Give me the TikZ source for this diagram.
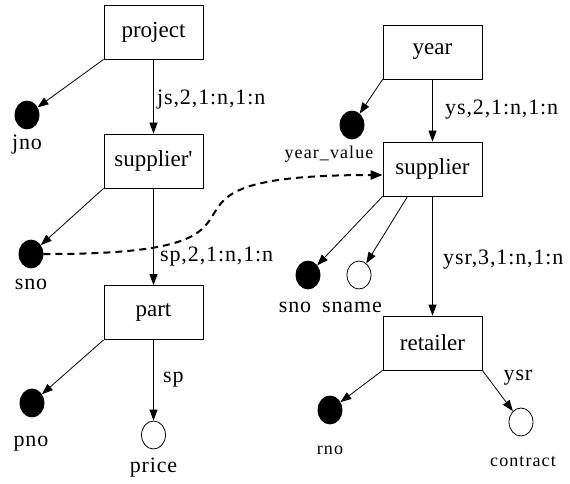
\documentclass[tikz,border=0pt]{standalone}
\usepackage{fontspec}
\setmainfont{Liberation Serif}
\newfontfamily\boxfont{Liberation Serif}
\newfontfamily\lblfont[LetterSpace=4]{Liberation Serif}
\newfontfamily\smlfont[LetterSpace=6]{Liberation Serif}
\usetikzlibrary{arrows.meta,shapes.geometric}
\begin{document}
\begin{tikzpicture}[x=1pt,y=-1pt,
  ent/.style={draw, line width=0.8pt, minimum width=99pt, minimum height=54pt, inner sep=0pt, font=\boxfont\fontsize{23}{26}\selectfont},
  keyatt/.style={ellipse, draw, fill=black, line width=0.8pt, minimum width=24pt, minimum height=28pt, inner sep=0pt},
  att/.style={ellipse, draw, fill=white, line width=0.8pt, minimum width=24pt, minimum height=28pt, inner sep=0pt},
  lbl/.style={inner sep=0pt, font=\lblfont\fontsize{22}{24}\selectfont},
  slbl/.style={inner sep=0pt, font=\smlfont\fontsize{18}{20}\selectfont},
  arr/.style={-{Triangle[length=11pt,width=8pt]}, line width=0.8pt},
  dasharr/.style={-{Triangle[length=12pt,width=9pt]}, line width=2pt, dash pattern=on 7pt off 5pt}
]
\useasboundingbox (0,0) rectangle (570,484);

% left column
\node[ent] (proj) at (153.5,32) {project};
\node[ent] (supA) at (153.5,161) {supplier'};
\node[ent] (part) at (153.5,312.5) {part};
\node[keyatt] (jno) at (27,115) {};
\node[keyatt] (snoA) at (31,254) {};
\node[keyatt] (pno) at (32,403) {};
\node[att] (price) at (153.5,435) {};
\node[lbl] (jnoL) at (27,145) {jno};
\node[lbl] (snoAL) at (31,284) {sno};
\node[lbl] (pnoL) at (31,444) {pno};
\node[lbl] (priceL) at (153.5,468) {price};
\node[lbl, anchor=west] (jsL) at (157,100) {js,2,1:n,1:n};
\node[lbl, anchor=west] (spL) at (160,257) {sp,2,1:n,1:n};
\node[lbl, anchor=west] (sp2L) at (163,380) {sp};

% right column
\node[ent] (year) at (432.5,52) {year};
\node[ent] (supB) at (432.5,169) {supplier};
\node[ent] (ret) at (432.5,343) {retailer};
\node[keyatt] (yv) at (352,125) {};
\node[keyatt] (snoB) at (308,275) {};
\node[att] (sname) at (359,275) {};
\node[keyatt] (rno) at (330,410) {};
\node[att] (contract) at (521,422) {};
\node[slbl] (yvL) at (329,154) {year\_value};
\node[lbl] (snoBL) at (295,307) {sno};
\node[lbl] (snameL) at (352,307) {sname};
\node[slbl] (rnoL) at (330,450) {rno};
\node[slbl] (contractL) at (523,462) {contract};
\node[lbl, anchor=west] (ysL) at (445,110) {ys,2,1:n,1:n};
\node[lbl, anchor=west] (ysrL) at (443,260) {ysr,3,1:n,1:n};
\node[lbl] (ysr2L) at (518,378) {ysr};

% edges left
\draw[arr] (proj.south) -- (supA.north);
\draw[arr] (proj.south west) -- (jno);
\draw[arr] (supA.south west) -- (snoA);
\draw[arr] (supA.south) -- (part.north);
\draw[arr] (part.south west) -- (pno);
\draw[arr] (part.south) -- (price.north);

% edges right
\draw[arr] (year.south) -- (supB.north);
\draw[arr] (year.south west) -- (yv);
\draw[arr] (supB.south west) -- (snoB);
\draw[arr] ([xshift=25pt]supB.south west) -- (sname);
\draw[arr] (supB.south) -- (ret.north);
\draw[arr] (ret.south west) -- (rno);
\draw[arr] (ret.south east) -- (contract);

% dashed
\draw[dasharr] (snoA.east) .. controls (330,255) and (100,175) .. ([yshift=-6pt]supB.west);
\end{tikzpicture}
\end{document}
